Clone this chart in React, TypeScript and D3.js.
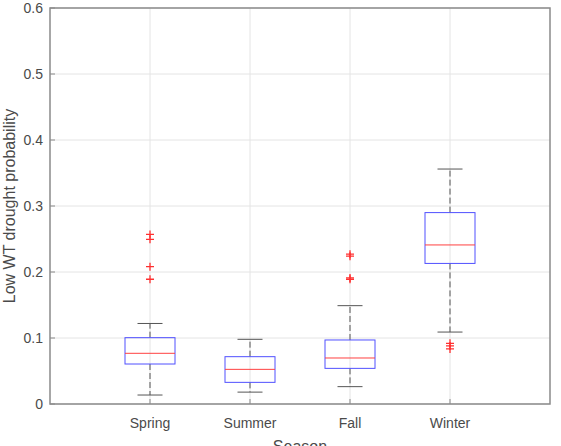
import React, { useEffect, useRef } from 'react';
import * as d3 from 'd3';

// Seasonal box statistics
const seasons = ['Spring', 'Summer', 'Fall', 'Winter'];
const q1 = [0.0606, 0.0328, 0.054, 0.213];
const medians = [0.0768, 0.0525, 0.0697, 0.241];
const q3 = [0.1005, 0.0717, 0.097, 0.29];
const whiskerLow = [0.0136, 0.018, 0.0263, 0.109];
const whiskerHigh = [0.122, 0.098, 0.149, 0.356];
const outliers = [
  [0.257, 0.2495, 0.208, 0.189],
  [],
  [0.227, 0.224, 0.191, 0.189],
  [0.092, 0.088, 0.0835],
];
const yTicks = [0, 0.1, 0.2, 0.3, 0.4, 0.5, 0.6];

const BoxPlot: React.FC = () => {
  const svgRef = useRef<SVGSVGElement>(null);

  useEffect(() => {
    const width = 561;
    const height = 446;
    const margin = { top: 8, right: 11, bottom: 42, left: 50 };

    const svg = d3.select(svgRef.current)
      .attr('width', width)
      .attr('height', height);
    svg.selectAll('*').remove();

    const x = d3.scaleLinear().domain([0, 5]).range([margin.left, width - margin.right]);
    const y = d3.scaleLinear().domain([0, 0.6]).range([height - margin.bottom, margin.top]);
    const font = 'Liberation Sans, Arial, sans-serif';
    const axisColor = '#8a8a8a';
    const textColor = '#4a4a4a';

    // grid
    const grid = svg.append('g');
    grid.selectAll('line.h')
      .data(yTicks)
      .enter()
      .append('line')
      .attr('x1', x(0)).attr('x2', x(5))
      .attr('y1', d => y(d)).attr('y2', d => y(d))
      .attr('stroke', '#e4e4e4');
    grid.selectAll('line.v')
      .data(seasons)
      .enter()
      .append('line')
      .attr('x1', (_, i) => x(i + 1)).attr('x2', (_, i) => x(i + 1))
      .attr('y1', y(0)).attr('y2', y(0.6))
      .attr('stroke', '#e4e4e4');

    // boxes
    const g = svg.append('g');
    seasons.forEach((_, i) => {
      const cx = x(i + 1);
      const hw = x(0.25) - x(0);
      const cap = x(0.125) - x(0);
      g.append('line')
        .attr('x1', cx).attr('x2', cx)
        .attr('y1', y(q3[i])).attr('y2', y(whiskerHigh[i]))
        .attr('stroke', '#555').attr('stroke-dasharray', '6,3');
      g.append('line')
        .attr('x1', cx).attr('x2', cx)
        .attr('y1', y(q1[i])).attr('y2', y(whiskerLow[i]))
        .attr('stroke', '#555').attr('stroke-dasharray', '6,3');
      [whiskerHigh[i], whiskerLow[i]].forEach(v => {
        g.append('line')
          .attr('x1', cx - cap).attr('x2', cx + cap)
          .attr('y1', y(v)).attr('y2', y(v))
          .attr('stroke', '#555');
      });
      g.append('rect')
        .attr('x', cx - hw).attr('width', 2 * hw)
        .attr('y', y(q3[i])).attr('height', y(q1[i]) - y(q3[i]))
        .attr('fill', 'none').attr('stroke', '#5050ff');
      g.append('line')
        .attr('x1', cx - hw).attr('x2', cx + hw)
        .attr('y1', y(medians[i])).attr('y2', y(medians[i]))
        .attr('stroke', '#ff4040');
      outliers[i].forEach(v => {
        g.append('path')
          .attr('d', `M${cx - 4},${y(v)}H${cx + 4}M${cx},${y(v) - 4}V${y(v) + 4}`)
          .attr('stroke', '#ff3030').attr('stroke-width', 1.3);
      });
    });

    // axes frame
    svg.append('rect')
      .attr('x', x(0)).attr('y', y(0.6))
      .attr('width', x(5) - x(0)).attr('height', y(0) - y(0.6))
      .attr('fill', 'none').attr('stroke', axisColor).attr('stroke-width', 1.5);

    // y ticks
    const yt = svg.append('g');
    yt.selectAll('line')
      .data(yTicks)
      .enter()
      .append('line')
      .attr('x1', x(0)).attr('x2', x(0) + 5)
      .attr('y1', d => y(d)).attr('y2', d => y(d))
      .attr('stroke', axisColor);
    yt.selectAll('text')
      .data(yTicks)
      .enter()
      .append('text')
      .attr('x', x(0) - 7)
      .attr('y', d => y(d))
      .attr('dy', '0.35em')
      .attr('text-anchor', 'end')
      .attr('font-family', font)
      .attr('font-size', 14)
      .attr('fill', textColor)
      .text(d => d3.format('.1~f')(d));

    // x ticks
    const xt = svg.append('g');
    xt.selectAll('line')
      .data(seasons)
      .enter()
      .append('line')
      .attr('x1', (_, i) => x(i + 1)).attr('x2', (_, i) => x(i + 1))
      .attr('y1', y(0)).attr('y2', y(0) - 5)
      .attr('stroke', axisColor);
    xt.selectAll('text')
      .data(seasons)
      .enter()
      .append('text')
      .attr('x', (_, i) => x(i + 1))
      .attr('y', y(0) + 24)
      .attr('text-anchor', 'middle')
      .attr('font-family', font)
      .attr('font-size', 14)
      .attr('fill', textColor)
      .text(d => d);

    svg.append('text')
      .attr('x', (x(0) + x(5)) / 2)
      .attr('y', y(0) + 48)
      .attr('text-anchor', 'middle')
      .attr('font-family', font)
      .attr('font-size', 16)
      .attr('fill', textColor)
      .text('Season');

    svg.append('text')
      .attr('transform', `translate(15,${(y(0) + y(0.6)) / 2}) rotate(-90)`)
      .attr('text-anchor', 'middle')
      .attr('font-family', font)
      .attr('font-size', 16)
      .attr('fill', textColor)
      .text('Low WT drought probability');
  }, []);

  return <svg ref={svgRef} style={{ position: 'absolute', left: 0, top: 0 }}></svg>;
};

const App: React.FC = () => {
  return <BoxPlot />;
};

export default App;
